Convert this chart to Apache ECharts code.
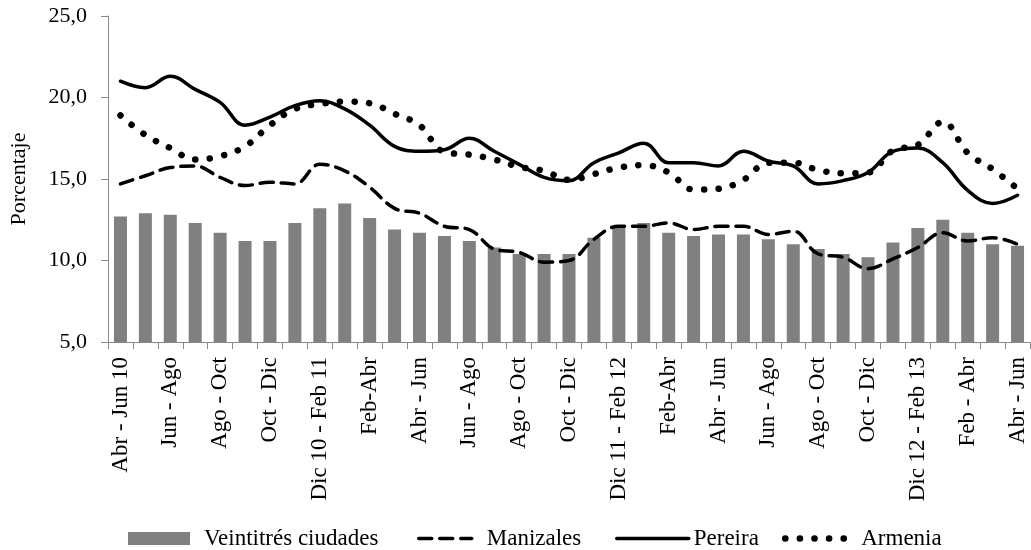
<!DOCTYPE html>
<html>
<head>
<meta charset="utf-8">
<script src="https://cdn.jsdelivr.net/npm/echarts@6/dist/echarts.min.js"></script>
<style>
  html, body { margin: 0; padding: 0; background: #fff; }
  #chart { width: 1031px; height: 550px; }
</style>
</head>
<body>
<div id="chart"></div>
<script>
// Trimestres móviles, abril-junio 2010 a abril-junio 2013
const periodos = [
  'Abr - Jun 10', 'May - Jul', 'Jun - Ago', 'Jul - Sep', 'Ago - Oct', 'Sep - Nov',
  'Oct - Dic', 'Nov - Ene', 'Dic 10 - Feb 11', 'Ene - Mar', 'Feb-Abr', 'Mar - May',
  'Abr - Jun', 'May - Jul', 'Jun - Ago', 'Jul - Sep', 'Ago - Oct', 'Sep - Nov',
  'Oct - Dic', 'Nov - Ene', 'Dic 11 - Feb 12', 'Ene - Mar', 'Feb-Abr', 'Mar - May',
  'Abr - Jun', 'May - Jul', 'Jun - Ago', 'Jul - Sep', 'Ago - Oct', 'Sep - Nov',
  'Oct - Dic', 'Nov - Ene', 'Dic 12 - Feb 13', 'Ene - Mar', 'Feb - Abr', 'Mar - May',
  'Abr - Jun'
];

// Tasa de desempleo (%)
const veintitres = [
  12.7, 12.9, 12.8, 12.3, 11.7, 11.2, 11.2, 12.3, 13.2, 13.5,
  12.6, 11.9, 11.7, 11.5, 11.2, 10.8, 10.4, 10.4, 10.4, 11.4,
  12.1, 12.3, 11.7, 11.5, 11.6, 11.6, 11.3, 11.0, 10.7, 10.4,
  10.2, 11.1, 12.0, 12.5, 11.7, 11.0, 10.9
];
const manizales = [
  14.7, 15.2, 15.7, 15.8, 15.1, 14.6, 14.8, 14.7, 15.9, 15.5,
  14.5, 13.2, 12.9, 12.1, 11.9, 10.7, 10.5, 9.9, 10.0, 11.3,
  12.1, 12.1, 12.3, 11.9, 12.1, 12.1, 11.6, 11.8, 10.4, 10.2,
  9.5, 10.1, 10.8, 11.7, 11.2, 11.4, 11.0
];
const pereira = [
  21.0, 20.6, 21.3, 20.5, 19.7, 18.3, 18.8, 19.5, 19.8, 19.3,
  18.3, 17.0, 16.7, 16.8, 17.5, 16.7, 15.9, 15.1, 14.9, 16.0,
  16.6, 17.2, 16.0, 16.0, 15.8, 16.7, 16.1, 15.8, 14.7, 14.9,
  15.4, 16.7, 16.9, 16.0, 14.3, 13.5, 14.0
];
const armenia = [
  18.9, 17.7, 16.9, 16.2, 16.4, 17.0, 18.3, 19.3, 19.6, 19.75,
  19.65, 19.0, 18.3, 16.65, 16.5, 16.2, 15.75, 15.5, 14.95, 15.3,
  15.7, 15.85, 15.4, 14.35, 14.4, 14.95, 16.0, 16.0, 15.55, 15.35,
  15.4, 16.75, 17.1, 18.5, 16.6, 15.6, 14.4
];

const fuente = '"Liberation Serif", "Times New Roman", serif';
const gris = '#888888';

// Line styles shared by each series and its legend key
const trazoManizales = { color: '#000', width: 3.5, type: [13, 8], cap: 'round' };
const trazoPereira = { color: '#000', width: 3.5, type: 'solid', cap: 'round' };
const trazoArmenia = { color: '#000', width: 6.5, type: [0.1, 14.5], cap: 'round' };

// One legend block per series so each key sits where it belongs on the bottom row
function leyenda(nombre, left, ancho, separacion, trazo) {
  const item = { name: nombre };
  const bloque = {
    left: left,
    top: 522,
    itemWidth: ancho,
    itemHeight: 13,
    selectedMode: false,
    textStyle: { fontFamily: fuente, fontSize: 23, color: '#000', padding: [0, 0, 0, separacion] },
    data: [item]
  };
  if (trazo) {
    item.itemStyle = { opacity: 0, color: 'rgba(0,0,0,0)', borderWidth: 0 };
    bloque.lineStyle = Object.assign({}, trazo);
  } else {
    item.icon = 'rect';
  }
  return bloque;
}

const chart = echarts.init(document.getElementById('chart'), null, { renderer: 'canvas' });

chart.setOption({
  animation: false,
  backgroundColor: '#ffffff',
  textStyle: { fontFamily: fuente, color: '#000' },
  grid: { left: 105, right: 1, top: 16, bottom: 208 },
  legend: [
    leyenda('Veintitrés ciudades', 123, 62, 9, null),
    leyenda('Manizales', 412, 53, 10, trazoManizales),
    leyenda('Pereira', 610, 72, 0, trazoPereira),
    leyenda('Armenia', 777, 66, 5, trazoArmenia)
  ],
  xAxis: {
    type: 'category',
    data: periodos,
    boundaryGap: true,
    axisLine: { lineStyle: { color: gris, width: 1 } },
    axisTick: { show: true, interval: 0, length: 7, lineStyle: { color: gris } },
    axisLabel: {
      interval: 1,
      rotate: 90,
      margin: 15,
      fontFamily: fuente,
      fontSize: 23,
      color: '#000'
    },
    splitLine: { show: false }
  },
  yAxis: {
    type: 'value',
    min: 5,
    max: 25,
    interval: 5,
    name: 'Porcentaje',
    nameLocation: 'middle',
    nameGap: 78,
    nameTextStyle: { fontFamily: fuente, fontSize: 22, color: '#000' },
    axisLine: { show: true, lineStyle: { color: gris, width: 1 } },
    axisTick: { show: true, length: 7, lineStyle: { color: gris } },
    axisLabel: {
      margin: 21,
      fontFamily: fuente,
      fontSize: 22,
      color: '#000',
      formatter: v => v.toFixed(1).replace('.', ',')
    },
    splitLine: { show: false }
  },
  series: [
    {
      name: 'Veintitrés ciudades',
      type: 'bar',
      data: veintitres,
      barWidth: 13,
      itemStyle: { color: '#808080' }
    },
    {
      name: 'Manizales',
      type: 'line',
      data: manizales,
      smooth: 0.4,
      symbol: 'none',
      itemStyle: { color: '#000' },
      lineStyle: trazoManizales
    },
    {
      name: 'Pereira',
      type: 'line',
      data: pereira,
      smooth: 0.4,
      symbol: 'none',
      itemStyle: { color: '#000' },
      lineStyle: trazoPereira
    },
    {
      name: 'Armenia',
      type: 'line',
      data: armenia,
      smooth: 0.4,
      symbol: 'none',
      itemStyle: { color: '#000' },
      lineStyle: trazoArmenia
    }
  ]
});
</script>
</body>
</html>
